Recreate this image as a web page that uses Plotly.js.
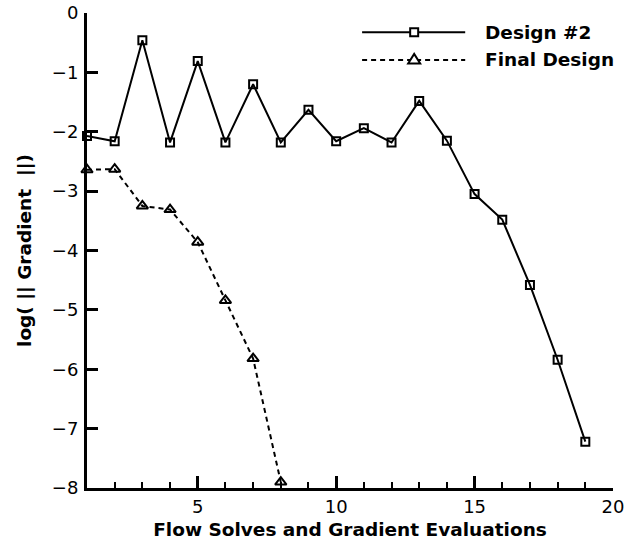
<!DOCTYPE html>
<html>
<head>
<meta charset="utf-8">
<script src="https://cdn.plot.ly/plotly-3.0.1.min.js"></script>
<style>
  html, body { margin: 0; padding: 0; background: #fff; }
  #chart { width: 635px; height: 544px; }
</style>
</head>
<body>
<div id="chart"></div>
<script>
// Convergence history: log of the gradient norm per flow solve / gradient evaluation
const seriesNames = ["Design #2", "Final Design"];

const design2Evals = [1, 2, 3, 4, 5, 6, 7, 8, 9, 10, 11, 12, 13, 14, 15, 16, 17, 18, 19];
const design2LogGrad = [-2.07, -2.16, -0.46, -2.18, -0.81, -2.18, -1.20, -2.18, -1.63, -2.16,
                        -1.94, -2.18, -1.48, -2.15, -3.05, -3.48, -4.58, -5.84, -7.22];

const finalEvals = [1, 2, 3, 4, 5, 6, 7, 8];
const finalLogGrad = [-2.64, -2.63, -3.25, -3.31, -3.86, -4.84, -5.82, -7.90];

const xTickVals = [5, 10, 15, 20];
const yTickVals = [-8, -7, -6, -5, -4, -3, -2, -1, 0];

const FONT = "DejaVu Sans, Arial, sans-serif";

const traces = [
  {
    x: design2Evals, y: design2LogGrad, name: seriesNames[0],
    type: "scatter", mode: "lines+markers", cliponaxis: false,
    line: { color: "#000", width: 2 },
    marker: { symbol: "square-open", size: 8, color: "#000", line: { width: 2, color: "#000" } }
  },
  {
    x: finalEvals, y: finalLogGrad, name: seriesNames[1],
    type: "scatter", mode: "lines+markers", cliponaxis: false,
    line: { color: "#000", width: 2, dash: "5px,4px" },
    marker: { symbol: "triangle-up-open", size: 10, color: "#000", line: { width: 2, color: "#000" } }
  }
];

// Hand-drawn legend: long line samples with a centred marker, labels to the right
const legendLineX = [0.523, 0.719];
const legendMarkX = 0.622;
const legendRowY = [0.9594, 0.9011];
const legendTextX = 0.753;

const shapes = [
  { type: "line", xref: "paper", yref: "paper", x0: legendLineX[0], x1: legendLineX[1],
    y0: legendRowY[0], y1: legendRowY[0], line: { color: "#000", width: 2 } },
  { type: "line", xref: "paper", yref: "paper", x0: legendLineX[0], x1: legendLineX[1],
    y0: legendRowY[1], y1: legendRowY[1], line: { color: "#000", width: 2, dash: "5px,4px" } },
  { type: "rect", xref: "paper", yref: "paper", xsizemode: "pixel", ysizemode: "pixel",
    xanchor: legendMarkX, yanchor: legendRowY[0], x0: -4, x1: 4, y0: -4, y1: 4,
    fillcolor: "#fff", line: { color: "#000", width: 2 } },
  { type: "path", xref: "paper", yref: "paper", xsizemode: "pixel", ysizemode: "pixel",
    xanchor: legendMarkX, yanchor: legendRowY[1],
    path: "M -6 -3.5 L 6 -3.5 L 0 6 Z",
    fillcolor: "#fff", line: { color: "#000", width: 2 } }
];

const annotations = seriesNames.map((name, i) => ({
  xref: "paper", yref: "paper", x: legendTextX, y: legendRowY[i],
  xanchor: "left", yanchor: "middle", showarrow: false, text: name,
  font: { family: FONT, size: 18.5, color: "#000", weight: "bold" }
}));

const layout = {
  width: 635, height: 544,
  margin: { l: 87, r: 22, t: 13, b: 56, pad: 0 },
  paper_bgcolor: "#fff", plot_bgcolor: "#fff",
  showlegend: false,
  font: { family: FONT, size: 18, color: "#000" },
  xaxis: {
    range: [1, 20], tickvals: xTickVals, automargin: false,
    showgrid: false, zeroline: false,
    showline: true, linecolor: "#000", linewidth: 3, mirror: false,
    ticks: "inside", ticklen: 12, tickwidth: 3, tickcolor: "#000",
    ticklabelstandoff: 0,
    minor: { dtick: 1, tick0: 0, ticks: "inside", ticklen: 6, tickwidth: 2, tickcolor: "#000", showgrid: false },
    tickfont: { family: FONT, size: 18, color: "#000" },
    title: { text: "Flow Solves and Gradient Evaluations", standoff: 8,
             font: { family: FONT, size: 18.5, color: "#000", weight: "bold" } }
  },
  yaxis: {
    range: [-8, 0], tickvals: yTickVals, automargin: false,
    showgrid: false, zeroline: false,
    showline: true, linecolor: "#000", linewidth: 3, mirror: false,
    ticks: "inside", ticklen: 11, tickwidth: 3, tickcolor: "#000",
    ticklabelstandoff: 2,
    tickfont: { family: FONT, size: 18, color: "#000" },
    title: { text: "log( || Gradient  ||)", standoff: 16,
             font: { family: FONT, size: 18.5, color: "#000", weight: "bold" } }
  },
  shapes: shapes,
  annotations: annotations
};

Plotly.newPlot("chart", traces, layout, { displayModeBar: false, staticPlot: true });
</script>
</body>
</html>
